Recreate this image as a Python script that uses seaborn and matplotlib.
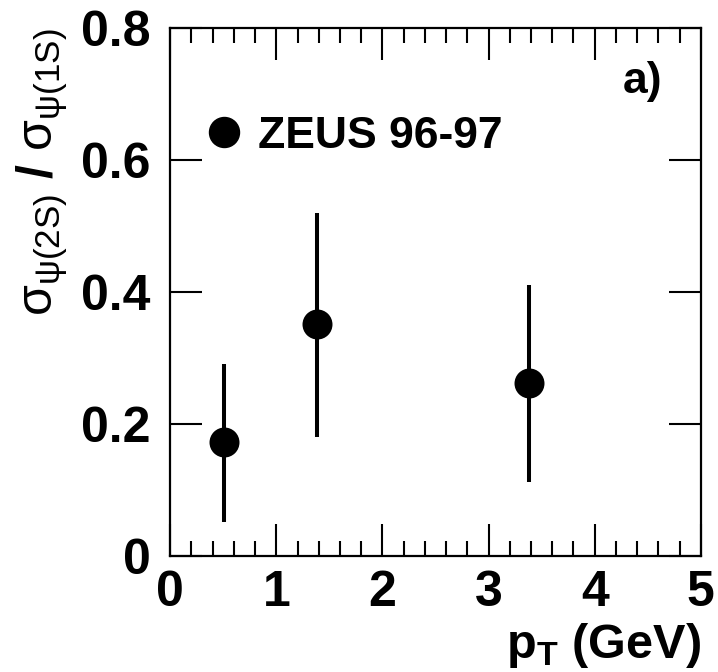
import matplotlib
matplotlib.use("Agg")
import matplotlib.pyplot as plt
from matplotlib.lines import Line2D
from matplotlib.ticker import MultipleLocator
import seaborn as sns
import pandas as pd

# Measured psi(2S)/psi(1S) cross-section ratio vs transverse momentum
pt = [0.51, 1.38, 3.38]
ratio = [0.172, 0.352, 0.262]
err_low = [0.052, 0.18, 0.112]
err_high = [0.291, 0.52, 0.41]
series_label = "ZEUS 96-97"
panel_label = "a)"
x_ticks = [0, 1, 2, 3, 4, 5]
y_ticks = [0, 0.2, 0.4, 0.6, 0.8]
y_tick_labels = ["0", "0.2", "0.4", "0.6", "0.8"]

df = pd.DataFrame({"pt": pt, "ratio": ratio, "lo": err_low, "hi": err_high})

sns.set_theme(style="ticks")
plt.rcParams["font.family"] = ["Liberation Sans", "DejaVu Sans"]
plt.rcParams["mathtext.fontset"] = "custom"
plt.rcParams["mathtext.rm"] = "Liberation Sans"
plt.rcParams["mathtext.it"] = "Liberation Sans:italic"
plt.rcParams["mathtext.bf"] = "Liberation Sans:bold"
for key in ["text.color", "axes.labelcolor", "xtick.color", "ytick.color",
            "axes.edgecolor"]:
    plt.rcParams[key] = "black"

fig = plt.figure(figsize=(7.18, 6.72), dpi=100)
ax = fig.add_axes([0.237, 0.1726, 0.739, 0.7858])

# vertical error bars
ax.vlines(df["pt"], df["lo"], df["hi"], color="black", linewidth=2.9)
sns.scatterplot(data=df, x="pt", y="ratio", ax=ax, color="black", s=466,
                edgecolor="black", linewidth=0, zorder=3, legend=False)

ax.set_xlim(0, 5)
ax.set_ylim(0, 0.8)
ax.set_xticks(x_ticks)
ax.set_xticklabels([str(v) for v in x_ticks])
ax.set_yticks(y_ticks)
ax.set_yticklabels(y_tick_labels)
ax.xaxis.set_minor_locator(MultipleLocator(0.2))

for s in ax.spines.values():
    s.set_linewidth(1.6)
    s.set_color("black")
    s.set_visible(True)

ax.tick_params(axis="both", which="both", direction="in", top=True, right=True,
               color="black")
ax.tick_params(axis="both", which="major", length=23, width=1.5,
               labelsize=36, pad=14)
ax.tick_params(axis="x", which="minor", length=11, width=1.5)
ax.tick_params(axis="x", which="major", pad=10)
for lab in ax.get_xticklabels() + ax.get_yticklabels():
    lab.set_fontweight("bold")

ax.set_xlabel(r"$\mathbf{p}_{\mathbf{T}}$ (GeV)", fontsize=35,
              fontweight="bold", loc="right", labelpad=4)
ax.set_ylabel(r"$\mathrm{\sigma_{\psi(2S)}}$ $\mathbf{/}$ $\mathrm{\sigma_{\psi(1S)}}$",
              fontsize=36, loc="top", labelpad=8)

handle = Line2D([], [], marker="o", linestyle="none", color="black",
                markersize=21.6)
ax.legend([handle], [series_label], loc="center left",
          bbox_to_anchor=(0.0603, 0.795), frameon=False,
          prop={"weight": "bold", "size": 32}, handletextpad=0.26,
          handlelength=1.0, borderaxespad=0, borderpad=0)

ax.text(0.927, 0.898, panel_label, transform=ax.transAxes, ha="right",
        va="center", fontsize=32, fontweight="bold")

fig.savefig("out.png", dpi=100)
